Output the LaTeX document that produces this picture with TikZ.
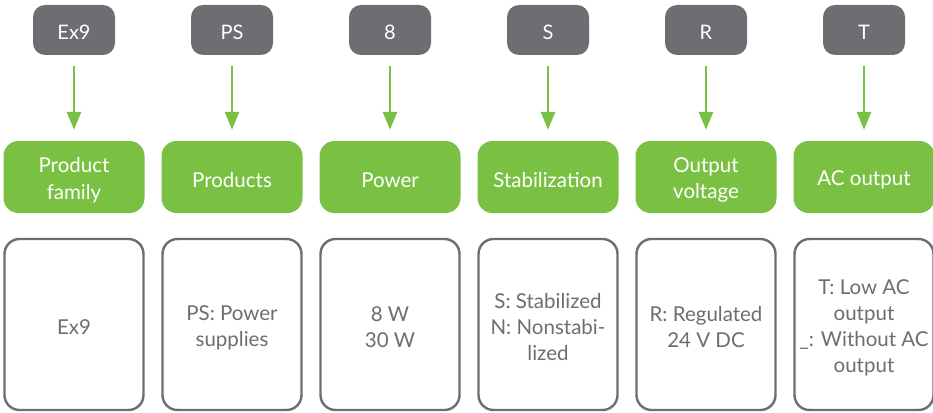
\documentclass[tikz,border=0pt]{standalone}
\usepackage{fontspec}
\setmainfont{Lato}
\usetikzlibrary{arrows.meta}
\definecolor{cgray}{HTML}{6D6E71}
\definecolor{cgreen}{HTML}{7AC143}
\begin{document}
\begin{tikzpicture}[x=1pt,y=-1pt,
  codebox/.style={fill=cgray,draw=none,rounded corners=12pt,minimum width=82pt,minimum height=50pt,inner sep=0pt},
  catbox/.style={fill=cgreen,draw=none,rounded corners=15pt,minimum width=141pt,minimum height=72pt,inner sep=0pt},
  descbox/.style={fill=white,draw=cgray,line width=2.4pt,rounded corners=15pt,minimum width=139pt,minimum height=171pt,inner sep=0pt},
  codetext/.style={text=white,font=\fontsize{20}{26}\selectfont,inner sep=0pt},
  cattext/.style={text=white,font=\fontsize{20.5}{26.5}\selectfont,align=center,inner sep=0pt},
  desctext/.style={text=cgray,font=\fontsize{20.5}{26}\selectfont,align=center,inner sep=0pt},
  arr/.style={draw=cgreen,line width=2.6pt,-{Triangle[length=18pt,width=14pt]}}]
\useasboundingbox (0,0) rectangle (933,412);
\foreach \i/\x/\c/\g/\d in {1/74/Ex9/{Product\\family}/Ex9,
  2/232/PS/Products/{PS: Power\\supplies},
  3/390/8/Power/{8 W\\30 W},
  4/548/S/Stabilization/{S: Stabilized\\N: Nonstabi-\\lized},
  5/706/R/{Output\\voltage}/{R: Regulated\\24 V DC},
  6/864/T/AC output/{T: Low AC\\output\\\_: Without AC\\output}}{
  \node[codebox] (c\i) at (\x,30) {};
  \node[codetext] (ct\i) at ([yshift=-2pt]c\i.center) {\c};
  \node[catbox] (g\i) at (\x,177) {};
  \node[cattext] (gt\i) at ([yshift=-3pt]g\i.center) {\g};
  \node[descbox] (d\i) at (\x,324.5) {};
  \node[desctext] (dt\i) at ([yshift=-3pt]d\i.center) {\d};
  \coordinate (s\i) at (\x,66);
  \draw[arr,shorten >=11pt] (s\i) -- (g\i.north);
}
\end{tikzpicture}
\end{document}
